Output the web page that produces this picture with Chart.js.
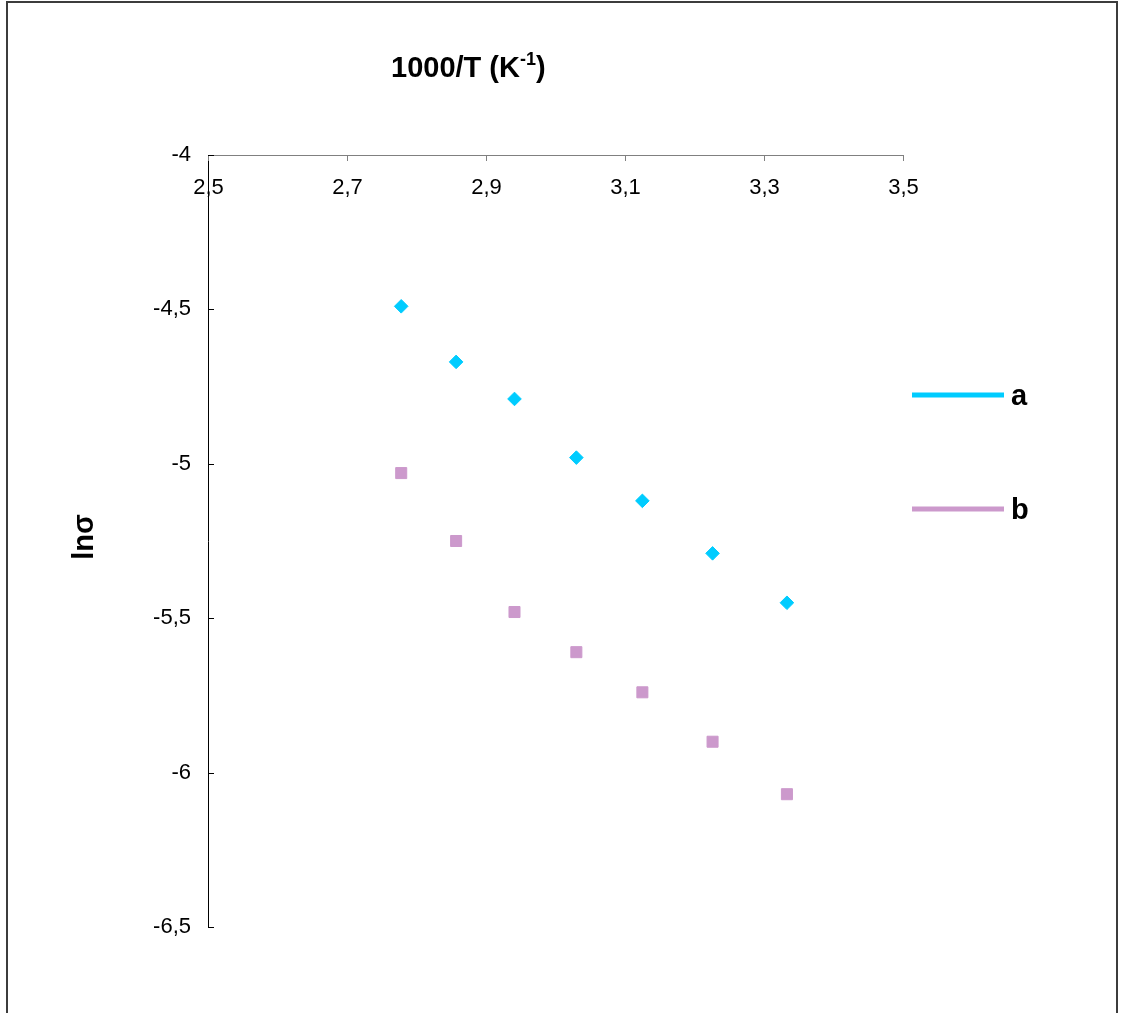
<!DOCTYPE html>
<html>
<head>
<meta charset="utf-8">
<script src="https://cdn.jsdelivr.net/npm/chart.js@4"></script>
<style>
  body { margin: 0; background: #fff; }
  canvas { display: block; }
</style>
</head>
<body>
<canvas id="arrhenius" width="1122" height="1013"></canvas>
<script>
// 1000/T values (K^-1) and ln(sigma) for the two samples
const invT = [2.778, 2.857, 2.941, 3.030, 3.125, 3.226, 3.333];
const lnSigmaA = [-4.49, -4.67, -4.79, -4.98, -5.12, -5.29, -5.45];
const lnSigmaB = [-5.03, -5.25, -5.48, -5.61, -5.74, -5.90, -6.07];
const seriesNames = ['a', 'b'];
const xTicks = [2.5, 2.7, 2.9, 3.1, 3.3, 3.5];
const yTicks = [-4, -4.5, -5, -5.5, -6, -6.5];

const cyan = '#00ccff';
const pink = '#cc99cc';

function toComma(v) {
    return String(Number(v.toFixed(1))).replace('.', ',');
}

// ticks inside the plot, x labels under the top axis, titles, legend, frame
const decorations = {
    id: 'decorations',
    afterDraw(chart) {
        const ctx = chart.ctx;
        const xs = chart.scales.x;
        const ys = chart.scales.y;
        const area = chart.chartArea;
        ctx.save();

        // frame
        ctx.strokeStyle = '#3c3c3c';
        ctx.lineWidth = 2;
        ctx.strokeRect(7, 2, 1110, 1030);

        // x ticks (pointing down) + labels
        ctx.lineWidth = 1;
        ctx.strokeStyle = '#808080';
        ctx.fillStyle = '#000';
        ctx.font = '22px "Liberation Sans", Arial, sans-serif';
        ctx.textAlign = 'center';
        ctx.textBaseline = 'alphabetic';
        xs.ticks.forEach(t => {
            const px = Math.round(xs.getPixelForValue(t.value)) + 0.5;
            ctx.beginPath();
            ctx.moveTo(px, area.top);
            ctx.lineTo(px, area.top + 6);
            ctx.stroke();
            ctx.fillText(toComma(t.value), px, area.top + 39);
        });

        // y ticks (pointing right)
        ctx.strokeStyle = '#000';
        ys.ticks.forEach(t => {
            const py = Math.round(ys.getPixelForValue(t.value)) + 0.5;
            ctx.beginPath();
            ctx.moveTo(area.left, py);
            ctx.lineTo(area.left + 6, py);
            ctx.stroke();
        });

        // x title with superscript
        ctx.textAlign = 'left';
        ctx.font = 'bold 29px "Liberation Sans", Arial, sans-serif';
        let tx = 391;
        const base = 77;
        ctx.fillText('1000/T (K', tx, base);
        tx += ctx.measureText('1000/T (K').width;
        ctx.font = 'bold 18px "Liberation Sans", Arial, sans-serif';
        ctx.fillText('-1', tx, base - 12);
        tx += ctx.measureText('-1').width;
        ctx.font = 'bold 29px "Liberation Sans", Arial, sans-serif';
        ctx.fillText(')', tx, base);

        // y title
        ctx.save();
        ctx.translate(93, 537);
        ctx.rotate(-Math.PI / 2);
        ctx.textAlign = 'center';
        ctx.fillText('lnσ', 0, 0);
        ctx.restore();

        // legend
        const legendY = [395, 509];
        chart.data.datasets.forEach((ds, i) => {
            ctx.strokeStyle = ds.backgroundColor;
            ctx.lineWidth = 5;
            ctx.beginPath();
            ctx.moveTo(912, legendY[i]);
            ctx.lineTo(1004, legendY[i]);
            ctx.stroke();
            ctx.fillStyle = '#000';
            ctx.font = 'bold 29px "Liberation Sans", Arial, sans-serif';
            ctx.textAlign = 'left';
            ctx.fillText(ds.label, 1011, legendY[i] + 10);
        });

        ctx.restore();
    }
};

new Chart(document.getElementById('arrhenius'), {
    type: 'scatter',
    data: {
        datasets: [
            {
                label: seriesNames[0],
                data: invT.map((x, i) => ({ x, y: lnSigmaA[i] })),
                pointStyle: 'rectRot',
                pointRadius: 6.8,
                borderWidth: 1,
                backgroundColor: cyan,
                borderColor: cyan
            },
            {
                label: seriesNames[1],
                data: invT.map((x, i) => ({ x, y: lnSigmaB[i] })),
                pointStyle: 'rect',
                pointRadius: 7.8,
                borderWidth: 1,
                backgroundColor: pink,
                borderColor: pink
            }
        ]
    },
    options: {
        responsive: false,
        animation: false,
        layout: { padding: { left: 0, top: 0, right: 219, bottom: 86 } },
        plugins: {
            legend: { display: false },
            tooltip: { enabled: false }
        },
        scales: {
            x: {
                type: 'linear',
                position: 'top',
                min: 2.5,
                max: 3.5,
                afterBuildTicks: (s) => { s.ticks = xTicks.map(v => ({ value: v })); },
                afterFit: (s) => { s.height = 155; },
                grid: { display: false, drawTicks: false },
                border: { display: true, color: '#808080', width: 1 },
                ticks: { display: false }
            },
            y: {
                type: 'linear',
                min: -6.5,
                max: -4,
                afterBuildTicks: (s) => { s.ticks = yTicks.map(v => ({ value: v })); },
                afterFit: (s) => { s.width = 208; },
                grid: { display: false, drawTicks: false },
                border: { display: true, color: '#000', width: 1 },
                ticks: {
                    padding: 17,
                    color: '#000',
                    font: { family: '"Liberation Sans", Arial, sans-serif', size: 22 },
                    callback: (v) => toComma(v)
                }
            }
        }
    },
    plugins: [decorations]
});
</script>
</body>
</html>
